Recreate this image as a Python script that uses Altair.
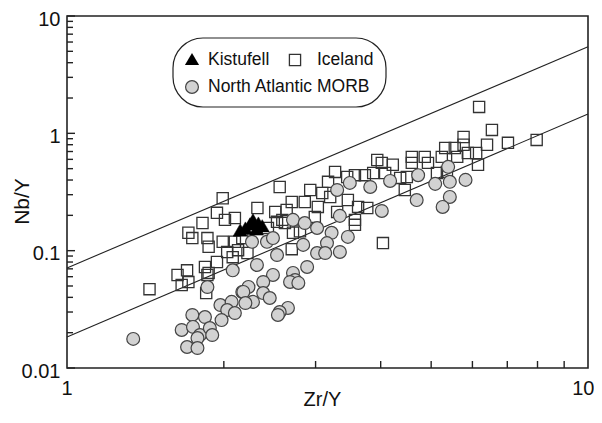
import altair as alt
import pandas as pd

# ---- data ----
iceland_x = [1.44, 1.63, 1.71, 1.66, 1.86, 1.85, 1.70, 1.84, 1.94, 2.08,
             1.99, 1.94, 2.01, 2.10, 1.82, 1.71, 1.74, 1.86, 1.87, 1.99,
             2.10, 2.13, 2.03, 2.56, 2.93, 3.27, 3.45, 3.57, 3.17, 3.09,
             3.20, 3.46, 3.62, 2.70, 2.86, 3.03, 2.64, 2.32, 2.51, 2.59,
             2.99, 3.30, 3.57, 2.70, 2.53, 2.62, 3.57, 2.22, 2.17, 6.18,
             6.54, 6.40, 5.77, 5.77, 5.55, 5.32, 5.24, 5.61, 5.88, 6.10,
             6.15, 4.59, 4.86, 4.59, 4.93, 3.94, 4.02, 4.22, 3.87, 4.08,
             4.36, 4.49, 5.13, 5.36, 3.73, 4.45, 4.04, 3.77, 7.02, 7.97,
             2.715, 1.87, 2.43, 2.80]
iceland_y = [0.047, 0.062, 0.054, 0.051, 0.062, 0.0435, 0.068, 0.0726, 0.080, 0.088,
             0.28, 0.21, 0.183, 0.19, 0.172, 0.142, 0.128, 0.128, 0.108, 0.119,
             0.119, 0.101, 0.0975, 0.349, 0.329, 0.469, 0.425, 0.44, 0.386, 0.31,
             0.287, 0.27, 0.236, 0.26, 0.26, 0.236, 0.222, 0.231, 0.214, 0.183,
             0.194, 0.214, 0.183, 0.103, 0.176, 0.172, 0.166, 0.0955, 0.128, 1.68,
             1.07, 0.80, 0.93, 0.80, 0.75, 0.75, 0.63, 0.63, 0.68, 0.68,
             0.54, 0.63, 0.63, 0.56, 0.56, 0.593, 0.56, 0.54, 0.459, 0.459,
             0.417, 0.425, 0.459, 0.469, 0.44, 0.329, 0.116, 0.231, 0.83, 0.879,
             0.142, 0.0646, 0.156, 0.146]

morb_x = [1.34, 1.86, 2.08, 1.97, 2.07, 2.17, 2.03, 2.10, 1.74, 1.84,
          1.98, 1.66, 1.745, 1.80, 1.88, 1.90, 1.78, 1.70, 1.78, 3.30,
          3.49, 3.34, 2.715, 2.86, 2.265, 2.42, 2.485, 2.53, 2.315, 3.02,
          3.22, 3.46, 2.84, 3.02, 3.155, 3.13, 3.34, 2.89, 2.715, 2.74,
          2.68, 2.78, 2.485, 2.38, 2.23, 2.18, 2.38, 2.45, 2.275, 2.20,
          2.655, 2.56, 2.54, 5.39, 4.72, 4.17, 5.09, 5.43, 5.82, 3.82,
          4.69, 4.02, 5.43, 5.26]
morb_y = [0.0177, 0.049, 0.068, 0.0344, 0.0366, 0.0445, 0.0312, 0.0294, 0.0283, 0.0272,
          0.0256, 0.0211, 0.0224, 0.0191, 0.0219, 0.0191, 0.018, 0.0151, 0.0148, 0.329,
          0.378, 0.198, 0.183, 0.172, 0.119, 0.119, 0.128, 0.0918, 0.0755, 0.156,
          0.142, 0.131, 0.112, 0.0955, 0.116, 0.0955, 0.0975, 0.0726, 0.0646, 0.0562,
          0.0541, 0.0531, 0.0621, 0.0541, 0.0491, 0.0445, 0.0435, 0.0395, 0.0366, 0.0358,
          0.0325, 0.030, 0.0283, 0.518, 0.44, 0.393, 0.371, 0.386, 0.401, 0.349,
          0.27, 0.218, 0.287, 0.236]

kist_x = [2.15, 2.20, 2.245, 2.275, 2.33, 2.37, 2.31]
kist_y = [0.150, 0.156, 0.169, 0.183, 0.172, 0.163, 0.153]

line_x = [1, 10]
upper_y = [0.0713, 5.46]
lower_y = [0.0184, 1.46]

x_labels = [1, 10]
y_labels = [0.01, 0.1, 1, 10]
x_minor = [2, 3, 4, 5, 6, 7, 8, 9]
y_minor = [m * d for d in (0.01, 0.1, 1) for m in (2, 3, 4, 5, 6, 7, 8, 9)]

FONT = "Liberation Sans"
W, H = 521, 352

xs = alt.Scale(type="log", domain=[1, 10], nice=False)
ys = alt.Scale(type="log", domain=[0.01, 10], nice=False)

x_enc = alt.X("x:Q", scale=xs, axis=alt.Axis(
    values=x_labels, format="~g", ticks=False, domain=False, grid=False,
    labelFontSize=20, labelPadding=10, labelFlush=True, labelFlushOffset=6,
    labelOverlap=False, labelColor="#111", labelFont=FONT,
    title="Zr/Y", titleFont=FONT, titleFontSize=20, titleFontWeight="normal",
    titleColor="#111", titleX=255, titleY=37, titleBaseline="alphabetic", titleAlign="center"))
y_enc = alt.Y("y:Q", scale=ys, axis=alt.Axis(
    values=y_labels, format="~g", ticks=False, domain=False, grid=False,
    labelFontSize=20, labelPadding=7, labelOffset=3, labelFlush=False, labelOverlap=False,
    labelColor="#111", labelFont=FONT,
    title="Nb/Y", titleFont=FONT, titleFontSize=21, titleFontWeight="normal",
    titleColor="#111", titleX=-45, titleY=185, titleBaseline="middle", titleAlign="center"))

ice_df = pd.DataFrame({"x": iceland_x, "y": iceland_y})
morb_df = pd.DataFrame({"x": morb_x, "y": morb_y})
kist_df = pd.DataFrame({"x": kist_x, "y": kist_y})
lines_df = pd.DataFrame({
    "x": line_x + line_x,
    "y": upper_y + lower_y,
    "g": ["upper", "upper", "lower", "lower"],
})
ymaj_df = pd.DataFrame({"y": y_labels})
ymin_df = pd.DataFrame({"y": y_minor})
xmin_df = pd.DataFrame({"x": x_minor})
one = pd.DataFrame({"a": [0]})

lines = alt.Chart(lines_df).mark_line(color="#222", strokeWidth=1.1).encode(
    x=x_enc, y=y_enc, detail="g:N")

ice = alt.Chart(ice_df).mark_point(shape="square", filled=False, size=125,
                                   stroke="#333", strokeWidth=1.3, opacity=1).encode(x=x_enc, y=y_enc)
morb = alt.Chart(morb_df).mark_point(shape="circle", filled=True, size=165,
                                     fill="#d2d2d2", stroke="#444", strokeWidth=1.2,
                                     opacity=1).encode(x=x_enc, y=y_enc)
kist = alt.Chart(kist_df).mark_point(shape="triangle-up", filled=True, size=200,
                                     fill="#000", stroke="#000", strokeWidth=0.5,
                                     opacity=1).encode(x=x_enc, y=y_enc)

ytick_major = alt.Chart(ymaj_df).mark_rule(color="#222", strokeWidth=1.4).encode(
    y=y_enc, x=alt.value(0), x2=alt.value(8))
ytick_minor = alt.Chart(ymin_df).mark_rule(color="#222", strokeWidth=1.4).encode(
    y=y_enc, x=alt.value(0), x2=alt.value(6))
xtick_minor = alt.Chart(xmin_df).mark_rule(color="#222", strokeWidth=1.4).encode(
    x=x_enc, y=alt.value(H), y2=alt.value(H - 7))

# legend (drawn inside the plot)
leg_box = alt.Chart(one).mark_rect(fill="white", stroke="#222", strokeWidth=1.2,
                                   cornerRadius=30).encode(
    x=alt.value(106), x2=alt.value(319), y=alt.value(22), y2=alt.value(91))
leg_tri = alt.Chart(one).mark_point(shape="triangle-up", filled=True, size=200,
                                    fill="#000", opacity=1).encode(
    x=alt.value(125), y=alt.value(43))
leg_sq = alt.Chart(one).mark_point(shape="square", filled=False, size=125,
                                   stroke="#333", strokeWidth=1.3, opacity=1).encode(
    x=alt.value(228), y=alt.value(44))
leg_ci = alt.Chart(one).mark_point(shape="circle", filled=True, size=165,
                                   fill="#d2d2d2", stroke="#444", strokeWidth=1.2,
                                   opacity=1).encode(
    x=alt.value(125), y=alt.value(71))
txt_kw = dict(font=FONT, fontSize=17.5, align="left", baseline="middle", color="#111")
leg_t1 = alt.Chart(one).mark_text(**txt_kw).encode(
    x=alt.value(141), y=alt.value(44), text=alt.value("Kistufell"))
leg_t2 = alt.Chart(one).mark_text(**txt_kw).encode(
    x=alt.value(250), y=alt.value(44), text=alt.value("Iceland"))
leg_t3 = alt.Chart(one).mark_text(**txt_kw).encode(
    x=alt.value(141), y=alt.value(71), text=alt.value("North Atlantic MORB"))

chart = alt.layer(
    lines, ice, morb, kist, ytick_major, ytick_minor, xtick_minor,
    leg_box, leg_tri, leg_sq, leg_ci, leg_t1, leg_t2, leg_t3,
).properties(
    width=W, height=H,
    autosize=alt.AutoSizeParams(type="none"),
    padding={"left": 59, "top": 8, "right": 6, "bottom": 41},
    background="white",
).configure_view(stroke="#222", strokeWidth=1.6)

chart.save("out.html", embed_options={"renderer": "svg", "actions": False})
